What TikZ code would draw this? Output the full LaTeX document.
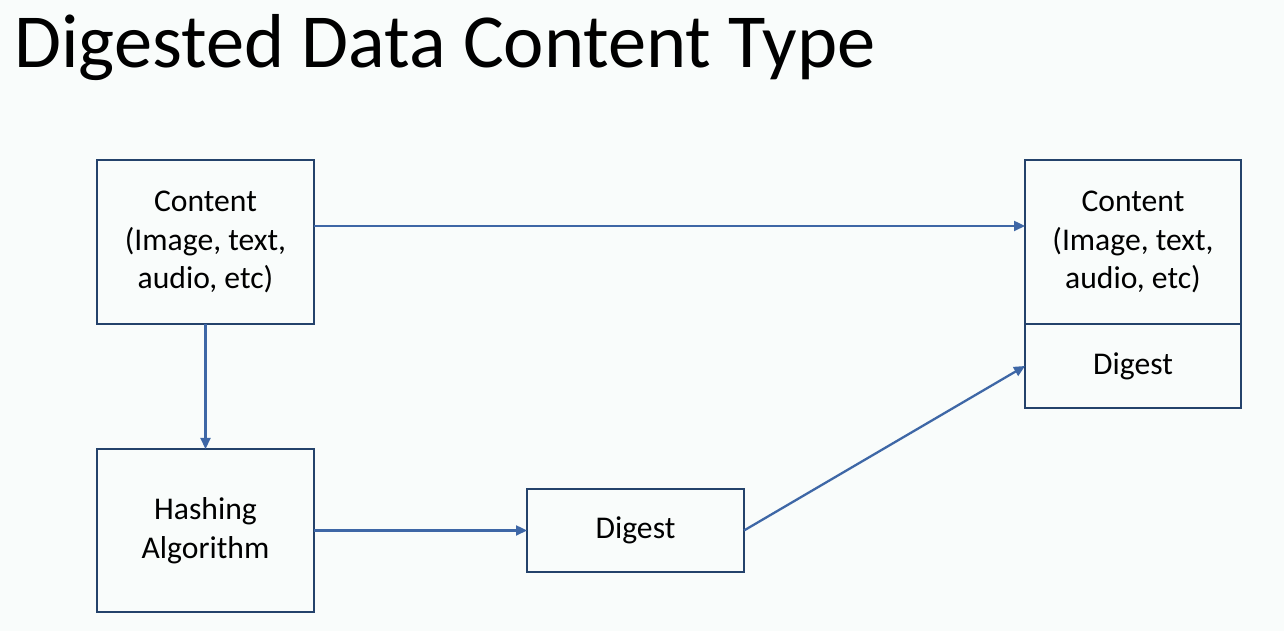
\documentclass[tikz,border=0pt]{standalone}
\usepackage{fontspec}
\setmainfont{Carlito}
\usetikzlibrary{positioning,arrows.meta}
\definecolor{bgcol}{HTML}{F9FCFB}
\definecolor{boxcol}{HTML}{24426B}
\definecolor{arrcol}{HTML}{3E67A6}
\tikzset{
box/.style={draw=boxcol, line width=1.1pt, minimum width=4.34cm, align=center, outer sep=0pt, font=\fontsize{18}{22}\selectfont},
flow/.style={draw=arrcol, line width=1.3pt, -{Triangle[length=0.22cm, width=0.2cm]}}
}
\begin{document}
\begin{tikzpicture}
\fill[bgcol] (0,0) rectangle (25.68,12.62);
\useasboundingbox (0,0) rectangle (25.68,12.62);
\node[anchor=base west, inner sep=0pt, font=\fontsize{43.5}{50}\selectfont] (title) at (0.28,11.26) {Digested Data Content Type};
\node[box, minimum height=3.28cm](cont) at (4.11,7.78) {Content\\(Image, text,\\audio, etc)};
\node[box, minimum height=3.26cm, below=2.5cm of cont](hash) {Hashing\\Algorithm};
\node[box, minimum height=1.66cm, right=4.26cm of hash](dig) {Digest};
\node[box, minimum height=3.28cm, minimum width=4.32cm, right=14.22cm of cont](rcont) {Content\\(Image, text,\\audio, etc)};
\node[box, minimum height=1.68cm, minimum width=4.32cm, below=0cm of rcont](rdig) {Digest};
\draw[flow] ([yshift=0.32cm]cont.east) -- ([yshift=0.32cm]rcont.west);
\draw[flow] (cont.south) -- (hash.north);
\draw[flow] (hash.east) -- (dig.west);
\draw[flow] (dig.east) -- (rdig.west);
\end{tikzpicture}
\end{document}
